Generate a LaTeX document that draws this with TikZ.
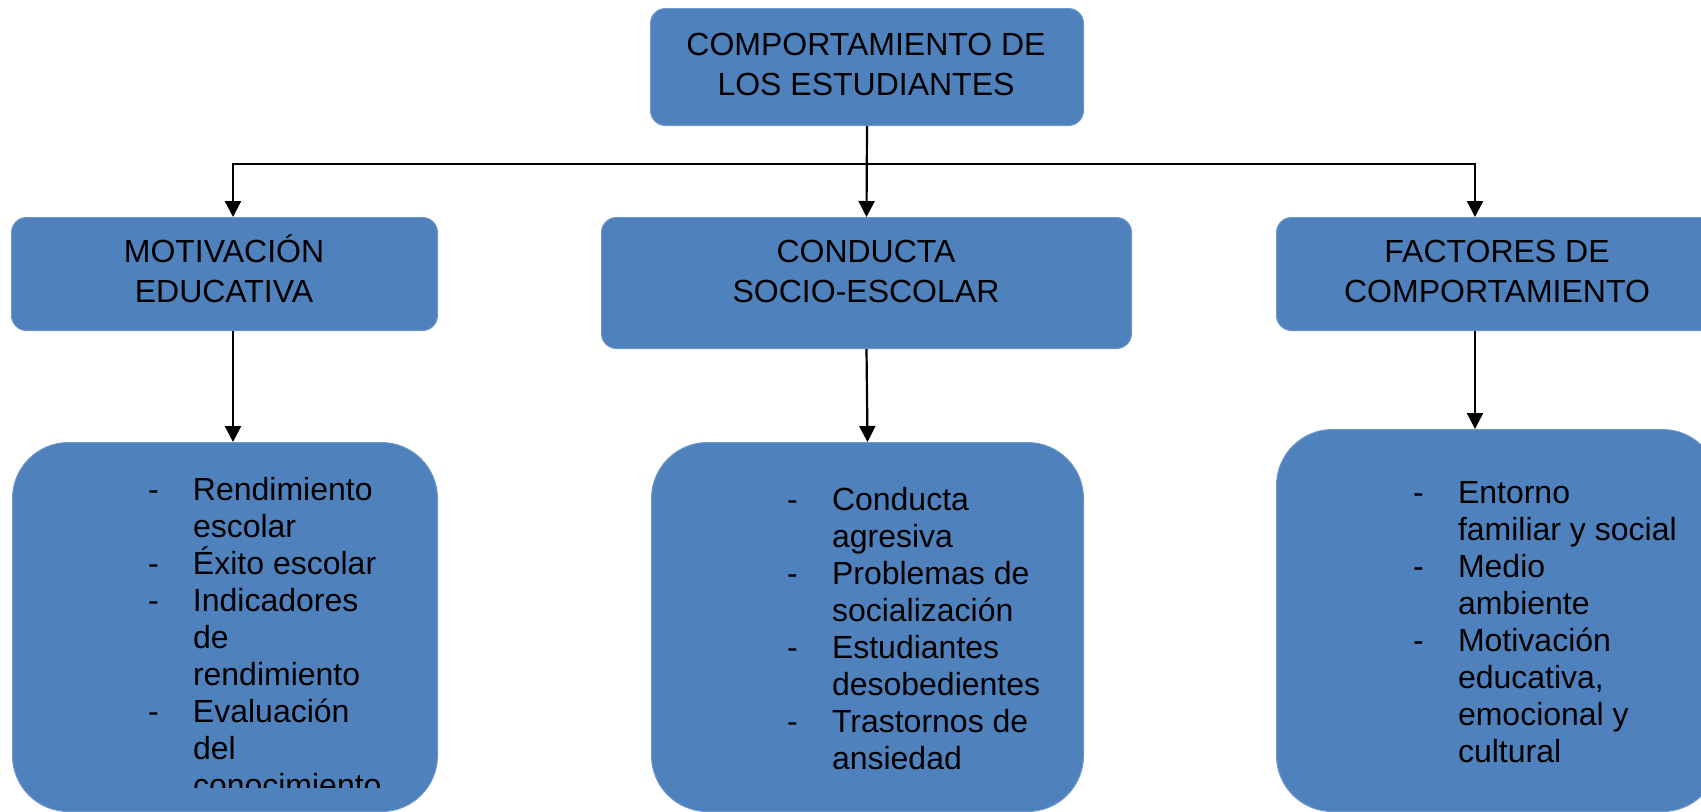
\documentclass[tikz,border=0pt]{standalone}
\usepackage{fontspec}
\setmainfont{Liberation Sans}
\usepackage{tikz}
\usetikzlibrary{arrows.meta}

\definecolor{boxblue}{RGB}{79,129,189}
\definecolor{boxedge}{RGB}{110,152,204}
\newcommand\headfont{\fontsize{16pt}{20pt}\selectfont}
\newcommand\listfont{\fontsize{16pt}{18.5pt}\selectfont}
\newcommand\dashitem{\makebox[22.5pt][l]{-}}
\newcommand\dashgap{\hspace*{22.5pt}}

\begin{document}
\begin{tikzpicture}[
    x=0.5pt, y=-0.5pt, % one unit per pixel, y going down
    >={Triangle[width=8pt,length=8pt]}, % arrow tip
    box/.style={rectangle, rounded corners=7.5pt, fill=boxblue, draw=boxedge, line width=0.5pt, inner sep=0pt, anchor=north west}, % title boxes
    bigbox/.style={box, rounded corners=28pt}, % list boxes
    head/.style={font=\headfont, align=center, inner sep=0pt, anchor=north}, % title text
    items/.style={font=\listfont, align=left, inner sep=0pt, anchor=north west}, % list text
    link/.style={line width=1.1pt, ->} % connectors
    ]
    \useasboundingbox (0,0) rectangle (1701,811);
    \clip (0,0) rectangle (1701,811);

    % boxes
    \node[box, minimum width=216.5pt, minimum height=58.5pt] (top) at (650,8) {};
    \node[box, minimum width=213pt, minimum height=56.5pt] (mot) at (11,217) {};
    \node[box, minimum width=265pt, minimum height=65.5pt] (cond) at (601,217) {};
    \node[box, minimum width=221pt, minimum height=56.5pt] (fact) at (1276,217) {};
    \node[bigbox, minimum width=212.5pt, minimum height=184.5pt] (motlist) at (12,442) {};
    \node[bigbox, minimum width=216pt, minimum height=184.5pt] (condlist) at (651,442) {};
    \node[bigbox, minimum width=221pt, minimum height=191pt] (factlist) at (1276,429) {};

    % titles
    \node[head] (top-t) at (866,27) {\strut COMPORTAMIENTO DE\\LOS ESTUDIANTES};
    \node[head] (mot-t) at (224,234) {\strut MOTIVACIÓN\\EDUCATIVA};
    \node[head] (cond-t) at (866,234) {\strut CONDUCTA\\SOCIO-ESCOLAR};
    \node[head] (fact-t) at (1497,234) {\strut FACTORES DE\\COMPORTAMIENTO};

    % lists
    \begin{scope}
        \clip (0,0) rectangle (1701,787);
        \node[items] (mot-l) at (147.6,474.1) {\strut\dashitem Rendimiento\\\dashgap escolar\\\dashitem Éxito escolar\\\dashitem Indicadores\\\dashgap de\\\dashgap rendimiento\\\dashitem Evaluación\\\dashgap del\\\dashgap conocimiento};
    \end{scope}
    \node[items] (cond-l) at (786.6,484.1) {\strut\dashitem Conducta\\\dashgap agresiva\\\dashitem Problemas de\\\dashgap socialización\\\dashitem Estudiantes\\\dashgap desobedientes\\\dashitem Trastornos de\\\dashgap ansiedad};
    \node[items] (fact-l) at (1412.6,477.1) {\strut\dashitem Entorno\\\dashgap familiar y social\\\dashitem Medio\\\dashgap ambiente\\\dashitem Motivación\\\dashgap educativa,\\\dashgap emocional y\\\dashgap cultural};

    % connectors
    \coordinate (barL) at (233,164);
    \coordinate (barR) at (1475,164);
    \draw[link, <->] (barL |- mot.north) -- (barL) -- (barR) -- (barR |- fact.north);
    \draw[link] (top.south) -- (cond.north);
    \draw[link] (barL |- mot.south) -- (barL |- motlist.north);
    \draw[link] (cond.south) -- (condlist.north);
    \draw[link] (barR |- fact.south) -- (barR |- factlist.north);
\end{tikzpicture}
\end{document}
